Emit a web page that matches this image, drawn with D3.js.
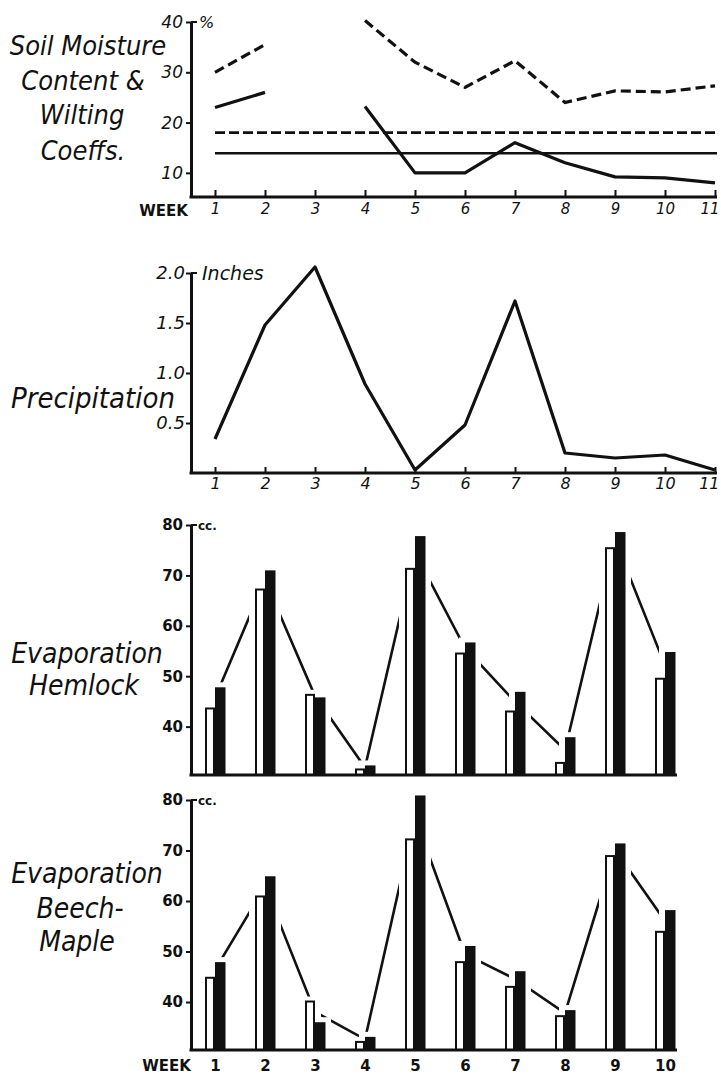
<!DOCTYPE html>
<html>
<head>
<meta charset="utf-8">
<script src="https://cdn.jsdelivr.net/npm/d3@7"></script>
<style>
  body { margin: 0; background: #fff; }
  svg { display: block; }
  .hand { font-family: "DejaVu Sans Condensed", "DejaVu Sans", sans-serif; font-style: italic; font-stretch: condensed; fill: #111; }
  .num { font-family: "DejaVu Sans", sans-serif; font-style: italic; fill: #111; }
  .bold { font-family: "DejaVu Sans", sans-serif; font-weight: bold; fill: #111; }
</style>
</head>
<body>
<script>
/* ===== data ===== */

var weeks = [1, 2, 3, 4, 5, 6, 7, 8, 9, 10, 11];
var evapWeeks = [1, 2, 3, 4, 5, 6, 7, 8, 9, 10];

// soil moisture content, % (null = no reading)
var moistureDashed = [30, 35.5, null, 40.3, 32, 27, 32.3, 24, 26.3, 26.1, 27.3];
var moistureSolid = [23, 26, null, 23.2, 10, 10, 16, 12, 9.2, 9, 8];
// wilting coefficients, %
var wiltingDashed = 18;
var wiltingSolid = 13.9;
var moistureTicks = [10, 20, 30, 40];

// precipitation, inches
var precip = [0.34, 1.48, 2.06, 0.89, 0.03, 0.48, 1.72, 0.2, 0.15, 0.18, 0.03];
var precipTicks = [0.5, 1.0, 1.5, 2.0];

// evaporation, cc.
var hemlockWhite = [43.6, 67.2, 46.3, 31.5, 71.3, 54.5, 43, 32.8, 75.4, 49.5];
var hemlockBlack = [47.8, 71, 45.8, 32.3, 77.8, 56.7, 46.9, 37.9, 78.6, 54.8];
var beechWhite = [44.8, 60.9, 40.1, 32.1, 72.2, 47.9, 43, 37.2, 68.9, 53.9];
var beechBlack = [47.9, 64.9, 36, 33.1, 80.9, 51.1, 46.1, 38.4, 71.4, 58.2];
var evapTicks = [40, 50, 60, 70, 80];

buildChart();

/* ===== BUILD CHART ===== */

function buildChart() {
  var w = 721;
  var h = 1080;
  var axisX = 191;
  var ink = '#111';

  var svg = d3.select('body')
    .append('svg')
    .attr('width', w)
    .attr('height', h);

  svg.append('rect')
    .attr('width', w)
    .attr('height', h)
    .attr('fill', '#fff');

  var xScale = d3.scaleLinear()
    .domain([1, 11])
    .range([215, 715]);

  /* ===== helpers ===== */

  function leftLabel(lines, size) {
    lines.forEach(function(l) {
      svg.append('text')
        .attr('class', 'hand')
        .attr('x', l[1])
        .attr('y', l[2])
        .attr('text-anchor', 'middle')
        .style('font-size', size + 'px')
        .text(l[0]);
    });
  }

  function yAxis(yScale, ticks, cls, size, pad) {
    var g = svg.append('g')
      .attr('transform', 'translate(' + axisX + ',0)')
      .call(d3.axisLeft(yScale)
        .tickValues(ticks)
        .tickSize(5)
        .tickSizeOuter(0)
        .tickPadding(pad)
        .tickFormat(function(d) {
          return cls === 'num' && d < 5 ? d3.format('.1f')(d) : d;
        }));
    g.select('.domain').attr('stroke', ink).attr('stroke-width', 3);
    g.selectAll('.tick line').attr('stroke', ink).attr('stroke-width', 2);
    g.selectAll('.tick text')
      .attr('class', cls)
      .attr('fill', ink)
      .style('font-size', size + 'px');
    // top tick crosses the axis
    var top = ticks[ticks.length - 1];
    g.append('line')
      .attr('x1', 0)
      .attr('x2', 6)
      .attr('y1', yScale(top))
      .attr('y2', yScale(top))
      .attr('stroke', ink)
      .attr('stroke-width', 2);
    return g;
  }

  function baseline(y, x2) {
    svg.append('line')
      .attr('x1', axisX - 1.5)
      .attr('x2', x2)
      .attr('y1', y)
      .attr('y2', y)
      .attr('stroke', ink)
      .attr('stroke-width', 3);
  }

  function weekAxis(y, ticks, tickLen, pad, cls, size) {
    var g = svg.append('g')
      .attr('transform', 'translate(0,' + y + ')')
      .call(d3.axisBottom(xScale)
        .tickValues(ticks)
        .tickSize(-tickLen)
        .tickSizeOuter(0)
        .tickPadding(pad));
    g.select('.domain').remove();
    g.selectAll('.tick line').attr('stroke', ink).attr('stroke-width', 2);
    g.selectAll('.tick text')
      .attr('class', cls)
      .attr('fill', ink)
      .style('font-size', size + 'px');
    // keep the last label inside the page
    g.selectAll('.tick text')
      .filter(function(d) { return d === 11; })
      .attr('text-anchor', 'end')
      .attr('x', 4);
    return g;
  }

  /* ===== soil moisture ===== */

  var yMoist = d3.scaleLinear()
    .domain([5.2, 40])
    .range([197, 22]);

  var moistLine = d3.line()
    .defined(function(d) { return d !== null; })
    .x(function(d, i) { return xScale(weeks[i]); })
    .y(function(d) { return yMoist(d); });

  svg.append('line')
    .attr('x1', xScale(1))
    .attr('x2', 717)
    .attr('y1', yMoist(wiltingDashed))
    .attr('y2', yMoist(wiltingDashed))
    .attr('stroke', ink)
    .attr('stroke-width', 2.8)
    .attr('stroke-dasharray', '10,4');

  svg.append('line')
    .attr('x1', xScale(1))
    .attr('x2', 717)
    .attr('y1', yMoist(wiltingSolid))
    .attr('y2', yMoist(wiltingSolid))
    .attr('stroke', ink)
    .attr('stroke-width', 2.6);

  svg.append('path')
    .datum(moistureDashed)
    .attr('d', moistLine)
    .attr('fill', 'none')
    .attr('stroke', ink)
    .attr('stroke-width', 3.2)
    .attr('stroke-dasharray', '10,5');

  svg.append('path')
    .datum(moistureSolid)
    .attr('d', moistLine)
    .attr('fill', 'none')
    .attr('stroke', ink)
    .attr('stroke-width', 3.2)
    .attr('stroke-linejoin', 'round');

  yAxis(yMoist, moistureTicks, 'num', 17, 3);
  baseline(197, 717);
  weekAxis(197, weeks, 7, 6, 'num', 15);

  svg.append('text')
    .attr('class', 'num')
    .attr('x', 199)
    .attr('y', yMoist(40) + 6)
    .style('font-size', '16px')
    .text('%');

  svg.append('text')
    .attr('class', 'bold')
    .attr('x', 188)
    .attr('y', 216)
    .attr('text-anchor', 'end')
    .style('font-size', '15px')
    .text('WEEK');

  leftLabel([
    ['Soil Moisture', 88, 55],
    ['Content &', 83, 90],
    ['Wilting', 82, 124],
    ['Coeffs.', 83, 160]
  ], 27);

  /* ===== precipitation ===== */

  var yPrecip = d3.scaleLinear()
    .domain([0, 2])
    .range([473, 273]);

  var precipLine = d3.line()
    .x(function(d, i) { return xScale(weeks[i]); })
    .y(function(d) { return yPrecip(d); });

  svg.append('path')
    .datum(precip)
    .attr('d', precipLine)
    .attr('fill', 'none')
    .attr('stroke', ink)
    .attr('stroke-width', 3.2)
    .attr('stroke-linejoin', 'round');

  yAxis(yPrecip, precipTicks, 'num', 18, 1);
  baseline(473, 717);
  weekAxis(473, weeks, 6, 5, 'num', 16);

  svg.append('text')
    .attr('class', 'num')
    .attr('x', 202)
    .attr('y', yPrecip(2) + 7)
    .style('font-size', '19px')
    .text('Inches');

  leftLabel([
    ['Precipitation', 93, 408]
  ], 29);

  /* ===== evaporation panels ===== */

  function evapPanel(white, black, y0, y1, bottomVal) {
    var yScale = d3.scaleLinear()
      .domain([bottomVal, 80])
      .range([y0, y1]);
    var barW = 10;
    var haloX = 6;
    var haloY = 5;

    // trend line through the mean of each pair
    var means = white.map(function(d, i) { return (d + black[i]) / 2; });
    var trend = d3.line()
      .x(function(d, i) { return xScale(evapWeeks[i]); })
      .y(function(d) { return yScale(d); });

    svg.append('path')
      .datum(means)
      .attr('d', trend)
      .attr('fill', 'none')
      .attr('stroke', ink)
      .attr('stroke-width', 2.6);

    // white gap round every bar breaks the trend line
    var pairs = white.map(function(d, i) {
      return { x: xScale(evapWeeks[i]), white: d, black: black[i] };
    });

    svg.selectAll(null)
      .data(pairs)
      .enter()
      .append('rect')
      .attr('x', function(d) { return d.x - barW - haloX; })
      .attr('y', function(d) { return yScale(d.white) - haloY; })
      .attr('width', barW + 2 * haloX)
      .attr('height', function(d) { return y0 - yScale(d.white) + haloY; })
      .attr('fill', '#fff');

    svg.selectAll(null)
      .data(pairs)
      .enter()
      .append('rect')
      .attr('x', function(d) { return d.x - haloX; })
      .attr('y', function(d) { return yScale(d.black) - haloY; })
      .attr('width', barW + 2 * haloX)
      .attr('height', function(d) { return y0 - yScale(d.black) + haloY; })
      .attr('fill', '#fff');

    svg.selectAll(null)
      .data(pairs)
      .enter()
      .append('rect')
      .attr('x', function(d) { return d.x - barW + 1; })
      .attr('y', function(d) { return yScale(d.white); })
      .attr('width', barW - 2)
      .attr('height', function(d) { return y0 - yScale(d.white); })
      .attr('fill', '#fff')
      .attr('stroke', ink)
      .attr('stroke-width', 2);

    svg.selectAll(null)
      .data(pairs)
      .enter()
      .append('rect')
      .attr('x', function(d) { return d.x; })
      .attr('y', function(d) { return yScale(d.black); })
      .attr('width', barW + 0.5)
      .attr('height', function(d) { return y0 - yScale(d.black); })
      .attr('fill', ink);

    yAxis(yScale, evapTicks, 'bold', 15, 3);
    baseline(y0, 677);

    svg.append('text')
      .attr('class', 'bold')
      .attr('x', 198)
      .attr('y', yScale(80) + 5)
      .style('font-size', '12px')
      .text('cc.');

    return yScale;
  }

  evapPanel(hemlockWhite, hemlockBlack, 775, 525, 30.4);
  leftLabel([
    ['Evaporation', 87, 663],
    ['Hemlock', 84, 695]
  ], 28);

  evapPanel(beechWhite, beechBlack, 1050, 800, 30.5);
  leftLabel([
    ['Evaporation', 87, 883],
    ['Beech-', 80, 918],
    ['Maple', 77, 951]
  ], 28);

  weekAxis(1050, evapWeeks, 0, 10, 'bold', 15);

  svg.append('text')
    .attr('class', 'bold')
    .attr('x', 191)
    .attr('y', 1071)
    .attr('text-anchor', 'end')
    .style('font-size', '15px')
    .text('WEEK');
}
</script>
</body>
</html>
